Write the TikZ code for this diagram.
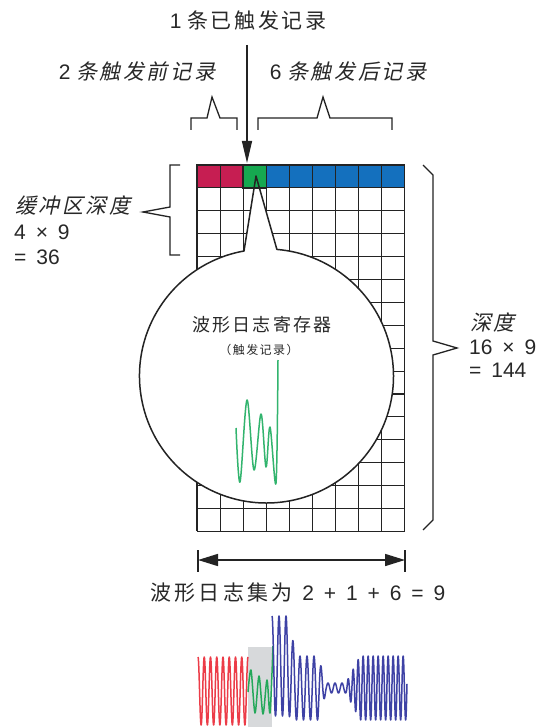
\documentclass[tikz,border=0pt]{standalone}
\usepackage{fontspec}
\setmainfont{Liberation Sans}
\newfontfamily\wide{Liberation Sans}[WordSpace=1.7]
\newfontfamily\cjk{Noto Sans CJK SC}[LetterSpace=12]
\newfontfamily\cjkw{Noto Sans CJK SC}[LetterSpace=15]
\newfontfamily\cjkit{Noto Sans CJK SC}[FakeSlant=0.22,LetterSpace=12]
\usetikzlibrary{arrows.meta}
\definecolor{pre}{RGB}{198,30,82}
\definecolor{trig}{RGB}{22,168,80}
\definecolor{post}{RGB}{20,112,190}
\definecolor{gridc}{RGB}{35,35,35}
\definecolor{txt}{RGB}{40,40,40}
\definecolor{wred}{RGB}{236,60,72}
\definecolor{wgreen}{RGB}{36,168,90}
\definecolor{wgreenl}{RGB}{50,180,110}
\definecolor{wblue}{RGB}{62,66,165}
\definecolor{graybox}{RGB}{215,217,219}
\tikzset{
  gridline/.style={draw=gridc, line width=1.1pt},
  lab/.style={inner sep=0pt, text=txt, font=\fontsize{21}{25}\selectfont},
  small/.style={inner sep=0pt, text=txt, font=\fontsize{12}{14}\selectfont},
  mid/.style={inner sep=0pt, text=txt, font=\fontsize{18}{21}\selectfont},
  brace/.style={draw=gridc, line width=1.3pt},
  wave/.style={line width=1.5pt, line join=round},
}
\begin{document}
\begin{tikzpicture}[x=1pt,y=-1pt,
  declare function={
    bA(\x)=(\x<288)?50:((\x<296)?(50-18*(\x-288)/8):((\x<318)?32:((\x<326)?(32-27*(\x-318)/8):((\x<346)?5:((\x<360)?(5+27*(\x-346)/14):32)))));
    bC(\x)=(\x<288)?666:((\x<296)?(666+22*(\x-288)/8):688);
    bP(\x)=(\x<346)?((\x-272)*51.4286):(3805.7+(\x-346)*72);
  }]
\useasboundingbox (0,0) rectangle (540,727);
\fill[white] (0,0) rectangle (540,727);

% grid
\foreach \i in {0,...,9} \draw[gridline] ({197+23.1*\i},165) -- ({197+23.1*\i},531.4);
\foreach \j in {0,...,16} \draw[gridline] (197,{165+22.9*\j}) -- (404.9,{165+22.9*\j});

% bubble fill
\fill[white] (244,251) arc[start angle=259.8, end angle=-85.3, radius=127] -- (256,176) -- cycle;

% top row cells
\foreach \i in {0,1} \filldraw[fill=pre, draw=gridc, line width=1.1pt] ({197+23.1*\i},165) rectangle ++(23.1,22.9);
\foreach \i in {3,...,8} \filldraw[fill=post, draw=gridc, line width=1.1pt] ({197+23.1*\i},165) rectangle ++(23.1,22.9);
\filldraw[fill=trig, draw=gridc, line width=1.6pt] ({197+23.1*2},165) rectangle ++(23.1,22.9);

% bubble outline
\draw[gridc, line width=1.5pt, line join=round] (244,251) arc[start angle=259.8, end angle=-85.3, radius=127] -- (256,176) -- cycle;

% waveform inside bubble
\draw[wgreenl, wave] plot[smooth, tension=0.55] coordinates {(236,428) (240,482) (247,400) (254,470) (261,414) (266,467) (270,427) (276,483) (278,360)};

% texts in bubble
\node[mid] (r1) at (262,325) {\cjk 波形日志寄存器};
\node[small] (r2) at (259,350) {\cjk （触发记录）};

% top arrow
\coordinate (ta) at (247,45);
\coordinate (tb) at (247,163);
\draw[gridc, line width=1.3pt, -{Triangle[length=22pt,width=10pt]}] (ta) -- (tb);

% top labels
\node[lab] (t1) at (248,21) {1 {\cjk 条已触发记录}};
\node[lab] (t2) at (137,72) {2 {\cjkit 条触发前记录}};
\node[lab] (t6) at (348,72) {6 {\cjkit 条触发后记录}};

% brackets above
\draw[brace, line join=miter] (191,130) -- (191,118) -- (207,118) -- (212,97) -- (220,118) -- (237,118) -- (237,130);
\draw[brace, line join=miter] (258,130) -- (258,118) -- (317,118) -- (323,97) -- (330,118) -- (392,118) -- (392,130);

% left brace and labels
\draw[brace, line join=miter] (180,165) -- (170,165) -- (170,207) -- (143,212) -- (170,217) -- (170,255) -- (180,255);
\node[lab, anchor=west] (bd1) at (15,205) {\cjkit 缓冲区深度};
\node[lab, anchor=west] (bd2) at (14,232) {\wide 4 × 9};
\node[lab, anchor=west] (bd3) at (14,257) {\wide = 36};

% right brace and labels
\draw[brace, line join=miter] (423,165) -- (433,175) -- (433,341) -- (457,348) -- (433,355) -- (433,520) -- (423,530);
\node[lab, anchor=west] (d1) at (470,322) {\cjkit 深度};
\node[lab, anchor=west] (d2) at (469,347) {\wide 16 × 9};
\node[lab, anchor=west] (d3) at (469,370) {\wide = 144};

% dimension arrow
\coordinate (dl) at (198,560);
\coordinate (dr) at (405,560);
\draw[gridc, line width=1.5pt, {Triangle[length=20pt,width=12pt]}-{Triangle[length=20pt,width=12pt]}] (dl) -- (dr);
\draw[gridc, line width=1.3pt] (198,550) -- (198,572);
\draw[gridc, line width=1.3pt] (405,550) -- (405,572);
\node[lab] (ws) at (298,593) {{\cjkw 波形日志集为}{\wide\ 2 + 1 + 6 = 9}};

% bottom waveform
\fill[graybox] (248,647) rectangle (272,727);
\draw[wred, wave] plot[domain=198:248, samples=300, variable=\t] (\t, {691 - 34*cos((\t-198)*57.6)});
\draw[wgreen, wave] plot[smooth, tension=0.5] coordinates {(248,692) (251,670) (255,713) (259,676) (263,714) (267,680) (270,713) (273,646)};
\draw[wblue, wave] plot[domain=272:407, samples=900, variable=\t] (\t, {bC(\t) - bA(\t)*cos(bP(\t))});
\end{tikzpicture}
\end{document}
